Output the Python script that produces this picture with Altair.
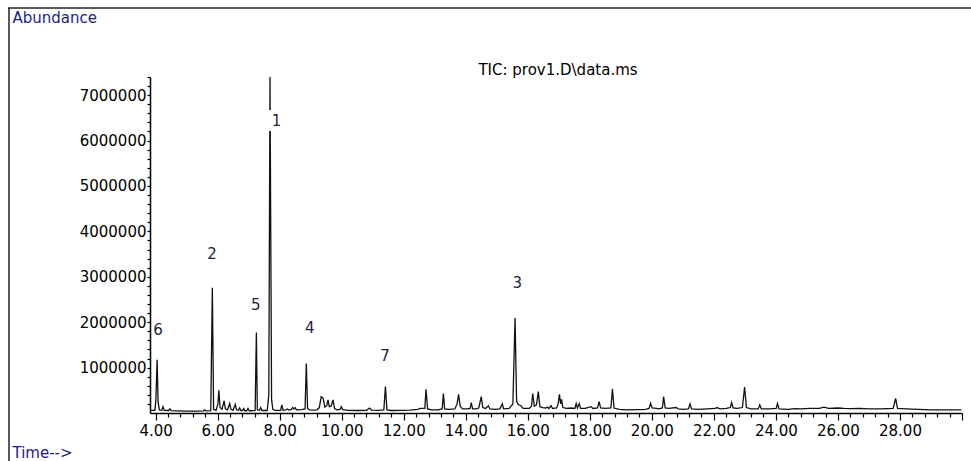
import altair as alt
import pandas as pd

# ---- chromatogram trace (retention time in min, abundance) ----
times = [
    3.82, 3.98, 4.01, 4.05, 4.08, 4.12, 4.20, 4.24, 4.28, 4.42, 4.46, 4.50, 4.70, 5.00,
    5.30, 5.55, 5.58, 5.62, 5.78, 5.83, 5.87, 5.95, 6.01, 6.04, 6.08, 6.14, 6.21, 6.25,
    6.32, 6.39, 6.43, 6.50, 6.57, 6.61, 6.67, 6.71, 6.75, 6.80, 6.84, 6.88, 6.94, 6.98,
    7.02, 7.10, 7.21, 7.25, 7.28, 7.35, 7.39, 7.43, 7.60, 7.65, 7.69, 7.71, 7.74, 7.78,
    7.85, 7.95, 8.03, 8.07, 8.11, 8.20, 8.25, 8.30, 8.38, 8.42, 8.46, 8.50, 8.54, 8.62,
    8.70, 8.82, 8.86, 8.90, 8.96, 9.10, 9.20, 9.28, 9.34, 9.40, 9.46, 9.52, 9.56, 9.60,
    9.66, 9.72, 9.77, 9.85, 9.95, 9.99, 10.04, 10.20, 10.50, 10.80, 10.90, 10.96, 11.20,
    11.36, 11.41, 11.46, 11.60, 11.90, 12.20, 12.45, 12.55, 12.68, 12.72, 12.77, 12.90,
    13.10, 13.24, 13.28, 13.32, 13.45, 13.65, 13.72, 13.77, 13.82, 13.90, 14.05, 14.14,
    14.18, 14.22, 14.32, 14.42, 14.50, 14.55, 14.64, 14.73, 14.78, 14.95, 15.10, 15.18,
    15.22, 15.40, 15.52, 15.59, 15.64, 15.70, 15.78, 15.85, 16.05, 16.12, 16.16, 16.21,
    16.28, 16.34, 16.39, 16.48, 16.58, 16.63, 16.68, 16.75, 16.80, 16.93, 16.98, 17.02,
    17.06, 17.09, 17.13, 17.25, 17.40, 17.52, 17.56, 17.60, 17.66, 17.70, 17.85, 18.04,
    18.10, 18.25, 18.30, 18.35, 18.50, 18.68, 18.73, 18.78, 18.95, 19.20, 19.50, 19.80,
    19.91, 19.96, 20.01, 20.15, 20.22, 20.34, 20.38, 20.43, 20.55, 20.79, 20.85, 21.00,
    21.18, 21.23, 21.28, 21.50, 21.80, 22.05, 22.10, 22.20, 22.40, 22.53, 22.57, 22.62,
    22.75, 22.92, 22.99, 23.05, 23.20, 23.43, 23.48, 23.53, 23.80, 24.01, 24.05, 24.10,
    24.40, 24.60, 24.80, 25.10, 25.40, 25.55, 25.70, 26.00, 26.20, 26.40, 26.70, 27.00,
    27.40, 27.78, 27.86, 27.92, 28.20, 28.60, 29.00, 29.50, 29.98,
]
abund = [
    60000, 60000, 300000, 1170000, 250000, 70000, 60000, 140000, 60000, 55000, 90000, 50000, 45000, 40000,
    40000, 45000, 70000, 45000, 50000, 2760000, 80000, 60000, 200000, 500000, 120000, 80000, 270000, 90000,
    70000, 210000, 80000, 60000, 190000, 70000, 60000, 110000, 55000, 55000, 100000, 50000, 50000, 100000,
    50000, 50000, 60000, 1770000, 70000, 60000, 120000, 55000, 55000, 400000, 7400000, 4400000, 300000, 80000,
    60000, 60000, 60000, 180000, 60000, 70000, 90000, 65000, 80000, 120000, 90000, 120000, 70000, 70000,
    75000, 90000, 1090000, 100000, 70000, 65000, 70000, 120000, 360000, 330000, 130000, 160000, 290000, 140000,
    150000, 290000, 100000, 70000, 80000, 140000, 75000, 60000, 55000, 60000, 110000, 65000, 60000,
    70000, 580000, 70000, 55000, 60000, 65000, 80000, 100000, 100000, 520000, 90000, 70000,
    70000, 90000, 430000, 90000, 80000, 90000, 200000, 410000, 150000, 90000, 90000, 100000,
    230000, 90000, 90000, 110000, 360000, 120000, 100000, 160000, 90000, 80000, 90000, 200000,
    90000, 100000, 200000, 2100000, 250000, 180000, 160000, 100000, 100000, 150000, 430000, 150000,
    180000, 470000, 140000, 120000, 110000, 130000, 100000, 160000, 100000, 110000, 200000, 410000,
    200000, 300000, 120000, 100000, 110000, 100000, 210000, 110000, 210000, 100000, 100000, 140000,
    100000, 110000, 250000, 110000, 100000, 110000, 530000, 110000, 80000, 70000, 75000, 80000,
    100000, 210000, 110000, 100000, 90000, 110000, 360000, 110000, 100000, 120000, 90000, 80000,
    90000, 200000, 90000, 80000, 90000, 100000, 120000, 90000, 100000, 120000, 230000, 110000,
    100000, 120000, 570000, 120000, 90000, 90000, 180000, 90000, 90000, 100000, 210000, 90000,
    80000, 95000, 90000, 100000, 100000, 130000, 100000, 110000, 100000, 95000, 100000, 90000,
    90000, 100000, 320000, 100000, 90000, 80000, 70000, 70000, 70000,
]

# ---- peak numbers ----
peak_ids = ["1", "2", "3", "4", "5", "6", "7"]
peak_label_time = [7.90, 5.82, 15.66, 8.97, 7.23, 4.08, 11.40]
peak_label_abund = [6430000, 3500000, 2870000, 1870000, 2380000, 1830000, 1260000]

# ---- axis ticks ----
x_ticks = [round(4 + 0.4 * i, 1) for i in range(66)]          # 4.0 ... 30.0
y_ticks = [200000 * i for i in range(1, 38)]                    # 0.2M ... 7.4M

TITLE_TEXT = "TIC: prov1.D\\data.ms"

FONT = "DejaVu Sans"
NAVY = "#1c1c8c"
W, H = 812, 336

trace_df = pd.DataFrame({"time": times, "abundance": abund})
lab_df = pd.DataFrame({"label": peak_ids, "time": peak_label_time, "abundance": peak_label_abund})
frame_df = pd.DataFrame({"k": [0], "title": [TITLE_TEXT]})

x_enc = alt.X(
    "time:Q",
    scale=alt.Scale(domain=[3.82, 30.0], nice=False, zero=False),
    axis=alt.Axis(
        values=x_ticks,
        labelExpr="abs(datum.value % 2) < 0.001 && datum.value < 29 ? format(datum.value, '.2f') : ''",
        tickSize={"condition": {"test": "abs(datum.value % 2) < 0.001", "value": 7}, "value": 4},
        labelPadding=3,
        labelOverlap=False,
        labelFlush=False,
        title="Time-->",
        titleX=-138,
        titleY=44,
        titleAlign="left",
        titleBaseline="alphabetic",
        titleAngle=0,
        titleFont=FONT,
        titleFontSize=15,
        titleFontWeight="normal",
        titleColor=NAVY,
    ),
)
y_enc = alt.Y(
    "abundance:Q",
    scale=alt.Scale(domain=[0, 7400000], nice=False),
    axis=alt.Axis(
        values=y_ticks,
        labelExpr="datum.value % 1000000 == 0 ? format(datum.value, 'd') : ''",
        tickSize=3,
        labelPadding=1,
        labelOverlap=False,
        labelFlush=False,
        title="Abundance",
        titleX=-138,
        titleY=-55,
        titleAngle=0,
        titleAlign="left",
        titleBaseline="alphabetic",
        titleFont=FONT,
        titleFontSize=15,
        titleFontWeight="normal",
        titleColor=NAVY,
    ),
)

trace = alt.Chart(trace_df).mark_line(color="#111111", strokeWidth=1.3, clip=True).encode(
    x=x_enc, y=y_enc
)

# white halo only behind the label "1" (it interrupts the tall peak line in the reference)
halo = alt.Chart(lab_df).transform_filter(alt.datum.label == "1").mark_text(
    font=FONT, fontSize=15, color="white", stroke="white", strokeWidth=10,
    align="center", baseline="middle",
).encode(x=x_enc, y=y_enc, text="label:N")

labels = alt.Chart(lab_df).mark_text(
    font=FONT, fontSize=15, color="#1f2340", align="center", baseline="middle",
).encode(x=x_enc, y=y_enc, text="label:N")

title_mark = alt.Chart(frame_df).mark_text(
    font=FONT, fontSize=15, color="black", align="center", baseline="middle",
).encode(x=alt.value(408), y=alt.value(-7), text="title:N")

frame_top = alt.Chart(frame_df).mark_rule(color="#222222", strokeWidth=1.5).encode(
    x=alt.value(-142), x2=alt.value(W + 9), y=alt.value(-69)
)
frame_left = alt.Chart(frame_df).mark_rule(color="#222222", strokeWidth=1.5).encode(
    x=alt.value(-141), y=alt.value(-69), y2=alt.value(H + 48)
)

chart = (
    alt.layer(trace, halo, labels, title_mark, frame_top, frame_left)
    .properties(
        width=W,
        height=H,
        autosize=alt.AutoSizeParams(type="none"),
        padding={"left": 150, "top": 77, "right": 9, "bottom": 48},
    )
    .configure_view(stroke=None)
    .configure_axis(
        grid=False,
        domainColor="black",
        domainWidth=1.5,
        tickColor="black",
        tickWidth=1.2,
        labelFont=FONT,
        labelFontSize=15,
        labelColor="black",
    )
)

chart.save("out.html", embed_options={"renderer": "svg", "actions": False})
